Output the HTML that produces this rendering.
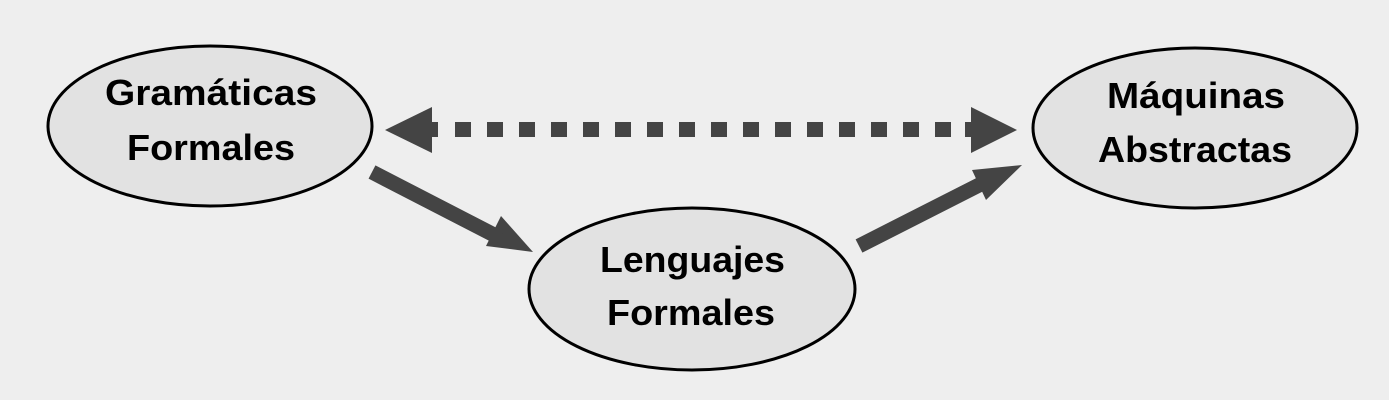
<!DOCTYPE html>
<html><head><meta charset="utf-8"><style>
html,body{margin:0;padding:0;background:#eeeeee;}
svg{display:block}
text{font-family:"Liberation Sans Narrow","Liberation Sans",sans-serif;font-weight:bold;font-size:36px;fill:#000}
</style></head><body>
<svg width="1389" height="400" viewBox="0 0 1389 400">
<rect width="1389" height="400" fill="#eeeeee"/>
<ellipse cx="210" cy="126" rx="162" ry="80" fill="#e2e2e2" stroke="#000" stroke-width="3"/>
<ellipse cx="1195" cy="128" rx="162" ry="80" fill="#e2e2e2" stroke="#000" stroke-width="3"/>
<ellipse cx="692" cy="289" rx="163" ry="81" fill="#e2e2e2" stroke="#000" stroke-width="3"/>
<g fill="#444">
<polygon points="385,130 432,107 432,153"/>
<polygon points="1017,130 971,107 971,153"/>
<rect x="432" y="122" width="6" height="15"/>
<rect x="455" y="122" width="16" height="15"/>
<rect x="487" y="122" width="16" height="15"/>
<rect x="519" y="122" width="16" height="15"/>
<rect x="551" y="122" width="16" height="15"/>
<rect x="583" y="122" width="16" height="15"/>
<rect x="615" y="122" width="16" height="15"/>
<rect x="647" y="122" width="16" height="15"/>
<rect x="679" y="122" width="16" height="15"/>
<rect x="711" y="122" width="16" height="15"/>
<rect x="743" y="122" width="16" height="15"/>
<rect x="775" y="122" width="16" height="15"/>
<rect x="807" y="122" width="16" height="15"/>
<rect x="839" y="122" width="16" height="15"/>
<rect x="871" y="122" width="16" height="15"/>
<rect x="903" y="122" width="16" height="15"/>
<rect x="935" y="122" width="16" height="15"/>
<rect x="965" y="122" width="6" height="15"/>
<polygon points="486,246 501,216 533,252"/>
<polygon points="972,170 1022,165 986,200"/>
</g>
<g stroke="#444" stroke-width="15" fill="none">
<line x1="372" y1="172" x2="500" y2="238"/>
<line x1="859" y1="246" x2="985" y2="182"/>
</g>
<text x="105" y="105" textLength="212" lengthAdjust="spacingAndGlyphs">Gramáticas</text>
<text x="127" y="160" textLength="168" lengthAdjust="spacingAndGlyphs">Formales</text>
<text x="1107" y="108" textLength="178" lengthAdjust="spacingAndGlyphs">Máquinas</text>
<text x="1098" y="162" textLength="194" lengthAdjust="spacingAndGlyphs">Abstractas</text>
<text x="600" y="272" textLength="185" lengthAdjust="spacingAndGlyphs">Lenguajes</text>
<text x="607" y="325" textLength="168" lengthAdjust="spacingAndGlyphs">Formales</text>
</svg>
</body></html>
